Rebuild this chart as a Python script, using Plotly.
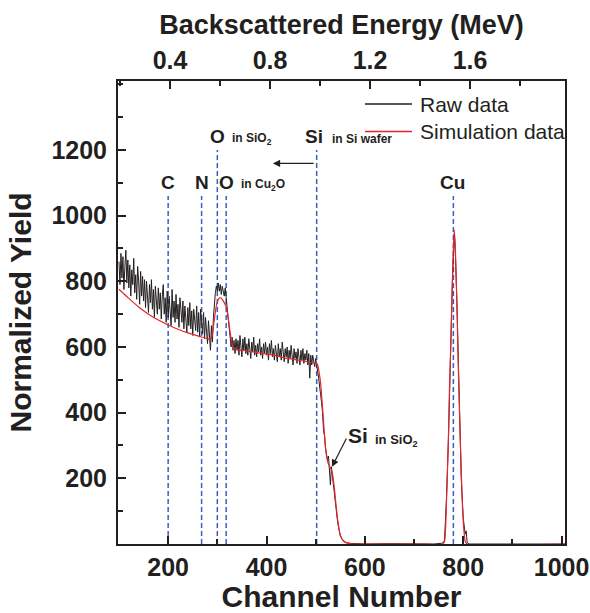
import plotly.graph_objects as go

# ---------------- data ----------------
raw_main_channels = list(range(100, 510, 2))
raw_main_counts = [
    860, 790, 885, 810, 875, 775, 845, 895, 795, 865,
    780, 850, 755, 835, 790, 870, 765, 820, 745, 845,
    800, 730, 830, 755, 815, 740, 805, 720, 800, 750,
    705, 790, 735, 805, 715, 775, 690, 785, 730, 700,
    780, 715, 765, 685, 755, 790, 700, 750, 675, 770,
    690, 755, 710, 665, 775, 690, 740, 675, 760, 685,
    730, 660, 750, 690, 675, 740, 655, 725, 680, 645,
    720, 665, 735, 655, 710, 635, 715, 670, 650, 725,
    645, 705, 630, 715, 655, 640, 705, 625, 690, 645,
    610, 680, 625, 590, 665, 615, 690, 735, 765, 785,
    770, 795, 770, 790, 760, 785, 765, 755, 780, 750,
    735, 695, 655, 625, 600, 630, 590, 620, 580, 625,
    590, 620, 575, 635, 595, 570, 625, 590, 630, 580,
    610, 575, 625, 590, 565, 615, 585, 630, 575, 605,
    570, 610, 585, 625, 575, 600, 565, 610, 580, 615,
    575, 600, 560, 610, 580, 620, 570, 595, 560, 605,
    585, 555, 610, 570, 595, 560, 615, 575, 555, 595,
    570, 600, 550, 590, 565, 605, 570, 545, 595, 565,
    585, 550, 595, 565, 545, 590, 560, 595, 550, 580,
    560, 590, 545, 580, 505, 575, 545, 575, 555, 540,
    565, 535, 525, 505, 470,
]
raw_tail_channels = [510, 512, 514, 516, 518, 520, 522, 524, 526, 528,
                     530, 532, 534, 536, 538, 540, 542, 544, 546, 548,
                     550, 554, 558, 562, 570, 580, 600, 650, 700, 740,
                     756, 760, 762, 766, 770, 774, 778, 782, 784, 788,
                     792, 796, 800, 804, 806, 808, 812, 850, 900, 950, 1007]
raw_tail_counts = [455, 430, 400, 345, 330, 290, 262, 255, 268, 230,
                   180, 235, 205, 185, 160, 130, 100, 75, 55, 38,
                   25, 14, 8, 4, 2, 1, 0, 1, 0, 0,
                   2, 5, 12, 140, 320, 560, 800, 945, 890, 690,
                   400, 200, 80, 30, 40, 5, 0, 0, 1, 0, 0]

sim_channels = [100, 120, 140, 160, 180, 200, 220, 240, 260, 280,
                286, 290, 294, 298, 302, 306, 310, 314, 318, 322,
                326, 330, 334, 340, 360, 380, 400, 420, 440, 460,
                480, 500, 504, 507, 510, 514, 518, 522, 526, 530,
                534, 538, 542, 546, 550, 555, 560, 570, 580, 700,
                758, 762, 766, 770, 772, 775, 777, 780, 782, 784,
                787, 789, 791, 794, 798, 801, 804, 808, 1007]
sim_counts = [776, 748, 722, 700, 682, 667, 654, 643, 634, 625,
              622, 640, 685, 725, 745, 750, 745, 735, 722, 690,
              645, 610, 596, 592, 588, 583, 579, 573, 566, 561,
              556, 550, 545, 522, 490, 415, 330, 270, 243, 232,
              215, 170, 110, 60, 28, 12, 5, 1, 0, 0,
              0, 8, 130, 330, 470, 620, 744, 900, 955, 900,
              744, 600, 480, 320, 134, 50, 8, 0, 0]

# element marker lines (channel, top of dashed line)
marker_channels = [200, 268, 300, 318, 502, 780]
marker_tops = [1060, 1060, 1200, 1060, 1200, 1060]

x_ticks = [200, 400, 600, 800, 1000]
y_ticks = [200, 400, 600, 800, 1000, 1200]
energy_ticks = [0.4, 0.8, 1.2, 1.6]
energy_labels = ["0.4", "0.8", "1.2", "1.6"]

X_RANGE = [98, 1007]
Y_RANGE = [0, 1410]
E_RANGE = [0.192, 1.98]

INK = "#231f20"
RED = "#e3262b"
BLUE = "#3a5dc2"
FONT = "Liberation Sans"

raw_x = raw_main_channels + raw_tail_channels
raw_y = raw_main_counts + raw_tail_counts

fig = go.Figure()
fig.add_trace(go.Scatter(x=raw_x, y=raw_y, mode="lines", name="Raw data",
                         line=dict(color=INK, width=1), showlegend=False))
fig.add_trace(go.Scatter(x=sim_channels, y=sim_counts, mode="lines",
                         name="Simulation data",
                         line=dict(color=RED, width=1.2, shape="spline", smoothing=0.6),
                         showlegend=False))
# dummy trace for the top energy axis
fig.add_trace(go.Scatter(x=E_RANGE, y=[None, None], xaxis="x2", mode="lines",
                         showlegend=False, hoverinfo="skip"))

for ch, top in zip(marker_channels, marker_tops):
    fig.add_shape(type="line", xref="x", yref="y", x0=ch, x1=ch, y0=0, y1=top,
                  line=dict(color=BLUE, width=1.5, dash="5px,3px"), layer="below")

big = dict(family=FONT, size=19, color=INK, weight="bold")
small = dict(family=FONT, size=12, color=INK, weight="bold")

def ann(text, x, y, font, xanchor="center"):
    fig.add_annotation(text=text, x=x, y=y, xref="x", yref="y", showarrow=False,
                       font=font, xanchor=xanchor, yanchor="middle")

ann("C", 200, 1101, big)
ann("N", 268, 1101, big)
ann("O", 318, 1101, big)
ann("in Cu<sub>2</sub>O", 344, 1092, small, "left")
ann("O", 300, 1241, big)
ann("in SiO<sub>2</sub>", 326, 1232, small, "left")
ann("Si", 496, 1241, big)
ann("in Si wafer", 529, 1232, small, "left")
ann("Cu", 779, 1101, big)
ann("Si", 587, 329, dict(family=FONT, size=21, color=INK, weight="bold"))
ann("in SiO<sub>2</sub>", 617, 316, dict(family=FONT, size=13, color=INK, weight="bold"), "left")

# arrows
fig.add_annotation(x=413, y=1159, ax=499, ay=1159, xref="x", yref="y", axref="x", ayref="y",
                   text="", showarrow=True, arrowhead=2, arrowsize=1.2, arrowwidth=1.2,
                   arrowcolor=INK)
fig.add_annotation(x=533, y=235, ax=564, ay=326, xref="x", yref="y", axref="x", ayref="y",
                   text="", showarrow=True, arrowhead=2, arrowsize=1.2, arrowwidth=1.2,
                   arrowcolor=INK)

# manual legend
legend_items = [("Raw data", INK, 0.9503), ("Simulation data", RED, 0.891)]
for label, col, yp in legend_items:
    fig.add_shape(type="line", xref="paper", yref="paper", x0=0.5526, x1=0.6577,
                  y0=yp, y1=yp, line=dict(color=col, width=1.4))
    fig.add_annotation(text=label, xref="paper", yref="paper", x=0.671, y=yp,
                       xanchor="left", yanchor="middle", showarrow=False,
                       font=dict(family=FONT, size=21, color=INK))

tickfont = dict(family=FONT, size=25, color=INK, weight="bold")
titlefont = dict(family=FONT, size=30, color=INK, weight="bold")

fig.update_layout(
    width=590, height=613,
    margin=dict(l=118, r=25, t=81, b=69, autoexpand=False),
    paper_bgcolor="white", plot_bgcolor="white",
    showlegend=False,
    xaxis=dict(range=X_RANGE, tickvals=x_ticks, ticks="inside", ticklen=8, tickwidth=1.5,
               tickcolor=INK, showline=True, linecolor=INK, linewidth=2, mirror=True,
               showgrid=False, zeroline=False, tickfont=tickfont, automargin=False,
               minor=dict(dtick=100, tick0=0, ticks="inside", ticklen=5, tickwidth=1.5,
                          tickcolor=INK, showgrid=False),
               title=dict(text="Channel Number", font=titlefont, standoff=2)),
    xaxis2=dict(range=E_RANGE, overlaying="x", side="top", tickvals=energy_ticks,
                ticktext=energy_labels, ticks="inside", ticklen=8, tickwidth=1.5,
                tickcolor=INK, showline=True, linecolor=INK, linewidth=2,
                showgrid=False, zeroline=False, tickfont=tickfont, automargin=False,
                minor=dict(dtick=0.2, tick0=0, ticks="inside", ticklen=5, tickwidth=1.5,
                           tickcolor=INK, showgrid=False),
                title=dict(text="Backscattered Energy (MeV)",
                           font=dict(family=FONT, size=27, color=INK, weight="bold"),
                           standoff=4)),
    yaxis=dict(range=Y_RANGE, tickvals=y_ticks, ticks="inside", ticklen=8, tickwidth=1.5,
               tickcolor=INK, showline=True, linecolor=INK, linewidth=2, mirror=True,
               showgrid=False, zeroline=False, tickfont=tickfont, ticklabelstandoff=4,
               automargin=False,
               minor=dict(dtick=100, tick0=0, ticks="inside", ticklen=5, tickwidth=1.5,
                          tickcolor=INK, showgrid=False),
               title=dict(text="Normalized Yield", font=titlefont, standoff=11)),
)

fig.write_html("out.html")
